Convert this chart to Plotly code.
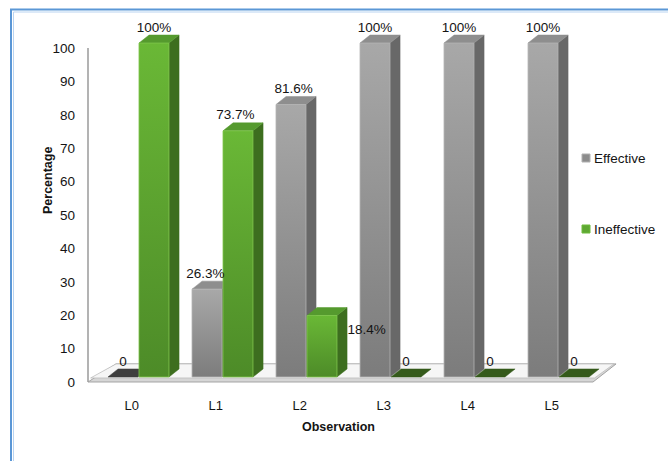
import plotly.graph_objects as go

# ---------------- data ----------------
categories = ["L0", "L1", "L2", "L3", "L4", "L5"]
effective = [0, 26.3, 81.6, 100, 100, 100]
ineffective = [100, 73.7, 18.4, 0, 0, 0]
y_ticks = [0, 10, 20, 30, 40, 50, 60, 70, 80, 90, 100]

# ---------------- styling / pseudo-3D geometry ----------------
BASE = 1.5     # bars stand on the floor slab
DX = 0.12      # depth offset in x (category units)
DY = 2.4       # depth offset in y (value units)
W = 0.357      # front-face width
GAP = 0.006
TEXT = "#141414"
FONT = "Liberation Sans"

series = [
    dict(name="Effective", values=effective, off=-(GAP + W),
         front=("#7c7c7c", "#a8a8a8"), side="#686868", top="#8e8e8e",
         zero="#3f3f3f", edge="#b4b4b4",
         nudge_x=[0, -0.02, 0.03, 0, 0, 0], nudge_y=[0, 0, 0, 0, 0, 0]),
    dict(name="Ineffective", values=ineffective, off=GAP,
         front=("#4d8b28", "#6ab836"), side="#3d6e1f", top="#559a2e",
         zero="#355a1b", edge="#80c64c",
         nudge_x=[0, -0.03, 0.53, 0, 0, 0], nudge_y=[0, 0, -9, 0, 0, 0]),
]

fig = go.Figure()

for s in series:
    for i, v in enumerate(s["values"]):
        x0 = i + s["off"]
        x1 = x0 + W
        y0 = BASE
        y1 = BASE + v
        if v > 0:
            # side face
            fig.add_trace(go.Scatter(
                x=[x1, x1 + DX, x1 + DX, x1, x1],
                y=[y0, y0 + DY, y1 + DY, y1, y0],
                fill="toself", fillcolor=s["side"], mode="lines",
                line=dict(color=s["side"], width=0.5),
                hoverinfo="skip", showlegend=False))
            # top face
            fig.add_trace(go.Scatter(
                x=[x0, x1, x1 + DX, x0 + DX, x0],
                y=[y1, y1, y1 + DY, y1 + DY, y1],
                fill="toself", fillcolor=s["top"], mode="lines",
                line=dict(color=s["top"], width=0.5),
                hoverinfo="skip", showlegend=False))
            # front face
            fig.add_trace(go.Scatter(
                x=[x0, x1, x1, x0, x0],
                y=[y0, y0, y1, y1, y0],
                fill="toself", mode="lines",
                fillgradient=dict(type="vertical",
                                  colorscale=[[0, s["front"][0]], [1, s["front"][1]]]),
                line=dict(color=s["edge"], width=0.8),
                hoverinfo="skip", showlegend=False))
        else:
            fig.add_trace(go.Scatter(
                x=[x0, x1, x1 + DX, x0 + DX, x0],
                y=[y1, y1, y1 + DY, y1 + DY, y1],
                fill="toself", fillcolor=s["zero"], mode="lines",
                line=dict(color=s["zero"], width=0.5),
                hoverinfo="skip", showlegend=False))

# data labels (drawn last so they sit on top of every bar)
for s in series:
    lx = [i + s["off"] + W / 2 + s["nudge_x"][i] for i in range(len(categories))]
    ly = [BASE + v + DY + s["nudge_y"][i] for i, v in enumerate(s["values"])]
    lt = [f"{v:g}%" if v else "0" for v in s["values"]]
    fig.add_trace(go.Scatter(
        x=lx, y=ly, text=lt, mode="text", textposition="top center",
        textfont=dict(family=FONT, size=13.5, color=TEXT),
        cliponaxis=False, hoverinfo="skip", showlegend=False))

# ---------------- layout ----------------
L, R, T, B = 88, 620, 20, 390   # plot area in pixels
def xp(px):
    return (px - L) / (R - L)
def yp(py):
    return (B - py) / (B - T)

shapes = [
    # floor slab (outer)
    dict(type="path", xref="x", yref="y",
         path="M -0.601 0 L 5.411 0 L 5.685 5.4 L -0.268 5.4 Z",
         fillcolor="#d6d6d6", line=dict(color="#a3a3a3", width=1), layer="below"),
    # floor top face
    dict(type="path", xref="x", yref="y",
         path="M -0.57 1.2 L 5.43 1.2 L 5.66 5.4 L -0.268 5.4 Z",
         fillcolor="#f6f6f6", line=dict(color="#bdbdbd", width=0.8), layer="below"),
    # value axis line
    dict(type="line", xref="paper", yref="y", x0=0, x1=0, y0=0, y1=100,
         line=dict(color="#a0a0a0", width=1.6)),
    # chart border (blue)
    dict(type="rect", xref="paper", yref="paper",
         x0=xp(11), x1=xp(720), y0=yp(520), y1=yp(9.5),
         line=dict(color="#5b97d6", width=2), fillcolor="rgba(0,0,0,0)"),
    dict(type="rect", xref="paper", yref="paper",
         x0=xp(13.5), x1=xp(720), y0=yp(520), y1=yp(12),
         line=dict(color="#b9d4f1", width=1), fillcolor="rgba(0,0,0,0)"),
    # legend swatches
    dict(type="rect", xref="paper", yref="paper",
         x0=xp(582), x1=xp(590), y0=yp(162), y1=yp(154),
         fillcolor="#8c8c8c", line=dict(color="#b0b0b0", width=1)),
    dict(type="rect", xref="paper", yref="paper",
         x0=xp(582), x1=xp(590), y0=yp(233), y1=yp(225),
         fillcolor="#5ea832", line=dict(color="#6cba3a", width=1)),
]

annotations = [
    dict(text="<b>Percentage</b>", xref="paper", yref="paper",
         x=xp(48), y=yp(181), xanchor="center", yanchor="middle",
         showarrow=False, textangle=-90,
         font=dict(family=FONT, size=12.5, color=TEXT)),
    dict(text="<b>Observation</b>", xref="paper", yref="paper",
         x=xp(338), y=yp(427), xanchor="center", yanchor="middle",
         showarrow=False,
         font=dict(family=FONT, size=12.5, color=TEXT)),
    dict(text=series[0]["name"], xref="paper", yref="paper",
         xanchor="left", yanchor="middle",
         x=xp(592), y=yp(158), showarrow=False,
         font=dict(family=FONT, size=13.5, color=TEXT)),
    dict(text=series[1]["name"], xref="paper", yref="paper",
         xanchor="left", yanchor="middle",
         x=xp(592), y=yp(229), showarrow=False,
         font=dict(family=FONT, size=13.5, color=TEXT)),
]

fig.update_layout(
    width=668, height=461,
    margin=dict(l=L, r=668 - R, t=T, b=461 - B, pad=0),
    paper_bgcolor="white", plot_bgcolor="white",
    showlegend=False,
    shapes=shapes, annotations=annotations,
    xaxis=dict(range=[-0.601, 5.732], showgrid=False, zeroline=False,
               showline=False,
               tickmode="array",
               tickvals=[i - 0.08 for i in range(len(categories))],
               ticktext=categories, ticks="", ticklabelstandoff=6,
               tickfont=dict(family=FONT, size=13, color=TEXT)),
    yaxis=dict(range=[-2.4, 108.4], showgrid=False, zeroline=False,
               showline=False, tickmode="array", tickvals=y_ticks,
               ticktext=[str(t) for t in y_ticks], ticks="",
               ticklabelstandoff=12,
               tickfont=dict(family=FONT, size=13.5, color=TEXT)),
)

fig.write_html("out.html")
